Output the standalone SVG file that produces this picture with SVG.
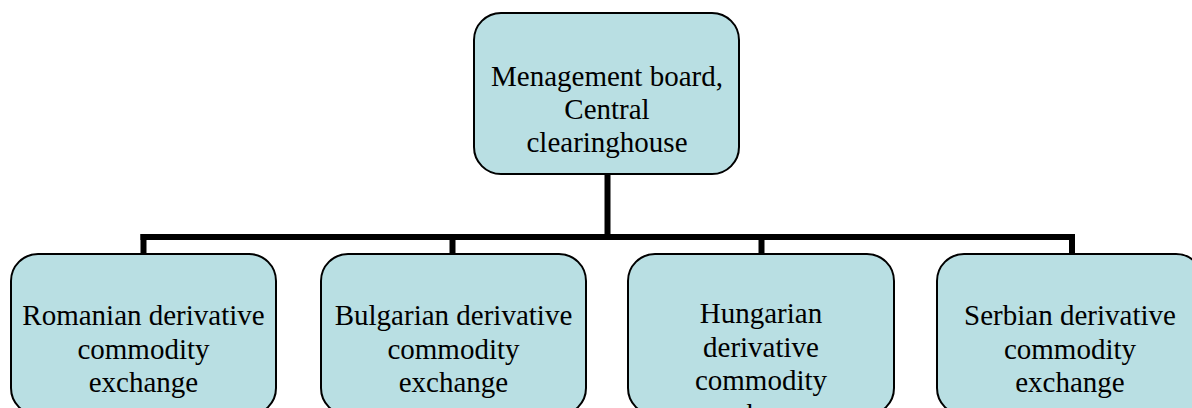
<svg xmlns="http://www.w3.org/2000/svg" width="1192" height="408" viewBox="0 0 1192 408">
<style>
.box{fill:#B9DFE3;stroke:#000;stroke-width:2}
.t{font-family:"Liberation Serif","Times New Roman",serif;font-size:29px;fill:#000;text-anchor:middle}
.c{stroke:#000;stroke-width:6;fill:none}
</style>
<rect width="1192" height="408" fill="#fff"/>
<g id="connectors">
<line class="c" x1="607.5" y1="174" x2="607.5" y2="237"/>
<line class="c" x1="140.5" y1="237" x2="1075" y2="237"/>
<line class="c" x1="143.5" y1="234" x2="143.5" y2="254"/>
<line class="c" x1="452.5" y1="237" x2="452.5" y2="254"/>
<line class="c" x1="761.5" y1="237" x2="761.5" y2="254"/>
<line class="c" x1="1072" y1="234" x2="1072" y2="254"/>
</g>
<g id="top">
<rect class="box" x="474" y="13" width="265" height="161" rx="27" ry="27"/>
<text class="t" x="607" y="86">Menagement board,</text>
<text class="t" x="607" y="119">Central</text>
<text class="t" x="607" y="152">clearinghouse</text>
</g>
<g id="romanian">
<rect class="box" x="11" y="254" width="265" height="161" rx="27" ry="27"/>
<text class="t" x="143.5" y="325">Romanian derivative</text>
<text class="t" x="143.5" y="358.5">commodity</text>
<text class="t" x="143.5" y="392">exchange</text>
</g>
<g id="bulgarian">
<rect class="box" x="321" y="254" width="265" height="161" rx="27" ry="27"/>
<text class="t" x="453.5" y="325">Bulgarian derivative</text>
<text class="t" x="453.5" y="358.5">commodity</text>
<text class="t" x="453.5" y="392">exchange</text>
</g>
<g id="hungarian">
<rect class="box" x="628" y="254" width="266" height="161" rx="27" ry="27"/>
<text class="t" x="761" y="323">Hungarian</text>
<text class="t" x="761" y="356.5">derivative</text>
<text class="t" x="761" y="390">commodity</text>
<text class="t" x="761" y="423.5">exchange</text>
</g>
<g id="serbian">
<rect class="box" x="937" y="254" width="266" height="161" rx="27" ry="27"/>
<text class="t" x="1070" y="325">Serbian derivative</text>
<text class="t" x="1070" y="358.5">commodity</text>
<text class="t" x="1070" y="392">exchange</text>
</g>
</svg>
